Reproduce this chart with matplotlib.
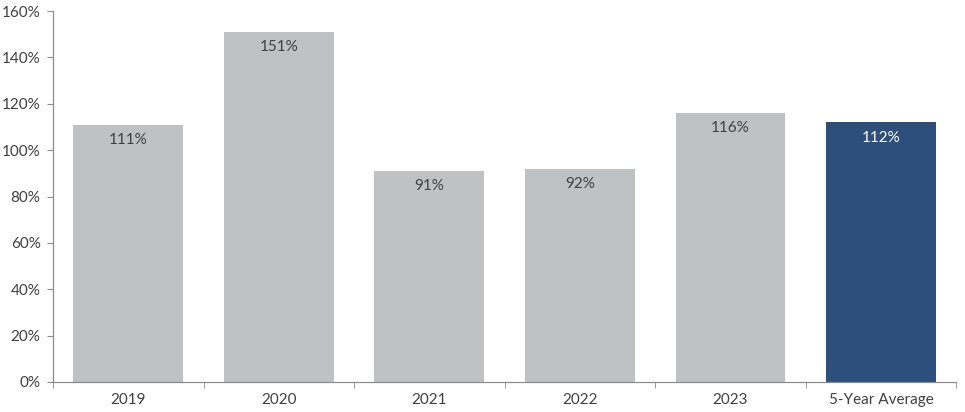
import matplotlib

matplotlib.use("Agg")

import matplotlib.pyplot as plt
from matplotlib.ticker import FuncFormatter, FixedLocator

plt.rcParams["font.family"] = ["Lato", "DejaVu Sans"]

INK = "#404040"
AXIS = "#8c8c8c"
GRAY = "#c0c1c3"
NAVY = "#2d4f7b"

categories = ["2019", "2020", "2021", "2022", "2023", "5-Year Average"]
values = [111, 151, 91, 92, 116, 112]
colors = [GRAY, GRAY, GRAY, GRAY, GRAY, NAVY]
label_colors = [INK, INK, INK, INK, INK, "white"]

fig = plt.figure(figsize=(9.65, 4.12), dpi=100, facecolor="white")
ax = fig.add_axes([0.055, 0.073, 0.936, 0.9])

x = range(len(categories))
bars = ax.bar(x, values, width=0.73, color=colors)

for bar, value, lc in zip(bars, values, label_colors):
    ax.annotate(
        f"{value}%",
        xy=(bar.get_x() + bar.get_width() / 2, bar.get_height()),
        xytext=(0, -11),
        textcoords="offset points",
        ha="center",
        va="center",
        fontsize=11,
        color=lc,
    )

ax.set_xlim(-0.5, len(categories) - 0.5)
ax.set_ylim(0, 160)
ax.set_yticks(range(0, 161, 20))
ax.yaxis.set_major_formatter(FuncFormatter(lambda v, _: f"{v:.0f}%"))

ax.set_xticks(list(x))
ax.set_xticklabels(categories)
ax.tick_params(axis="x", length=0, pad=8, labelsize=11, colors=INK)
ax.xaxis.set_minor_locator(FixedLocator([i - 0.5 for i in range(len(categories) + 1)]))
ax.tick_params(axis="x", which="minor", length=4, color=AXIS, direction="out")
ax.tick_params(axis="y", length=4, color=AXIS, labelsize=11, labelcolor=INK, pad=5)

ax.spines[["top", "right"]].set_visible(False)
ax.spines[["left", "bottom"]].set_color(AXIS)
ax.spines[["left", "bottom"]].set_linewidth(0.9)

fig.savefig("out.png", dpi=100, facecolor="white")
